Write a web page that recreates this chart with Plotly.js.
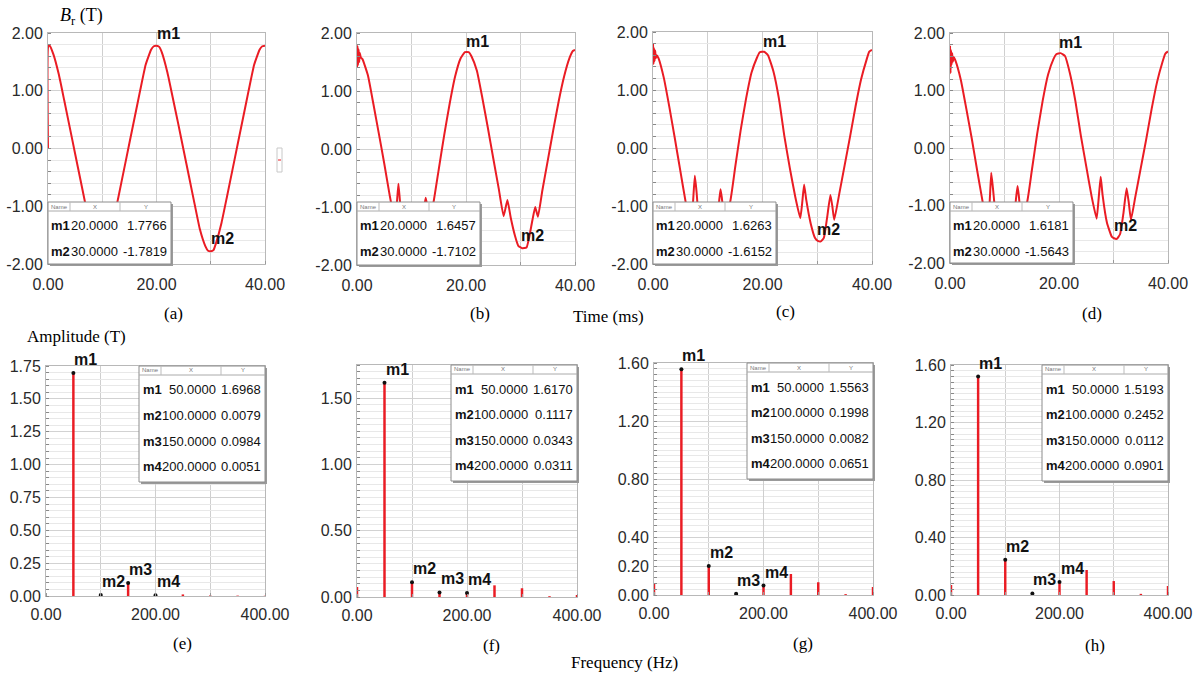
<!DOCTYPE html>
<html><head><meta charset="utf-8">
<script src="https://cdn.plot.ly/plotly-3.0.1.min.js"></script>
<style>html,body{margin:0;padding:0;background:#fff}#chart{width:1200px;height:679px}</style>
</head><body><div id="chart"></div>
<script>
// ---------- DATA ----------
// Time-domain radial flux density, Br (T) vs time (ms)
const timeA = [0,0.05,0.3,1,2,3,4,5,6,7,8,9,9.5,10,10.5,11,12,13,14,15,16,17,18,19,19.5,20,20.5,21,22,23,24,25,26,27,28,29,29.5,30,30.5,31,32,33,34,35,36,37,38,39,39.5,40];
const brA   = [0,1.77,1.78,1.63,1.28,0.83,0.37,-0.09,-0.55,-1.01,-1.45,-1.71,-1.77,-1.78,-1.75,-1.63,-1.28,-0.83,-0.37,0.09,0.55,1.01,1.45,1.71,1.77,1.78,1.76,1.66,1.32,0.88,0.43,-0.03,-0.49,-0.95,-1.4,-1.69,-1.77,-1.78,-1.76,-1.63,-1.28,-0.83,-0.37,0.09,0.55,1.01,1.45,1.71,1.77,1.78];

const timeB = [0,0.1,0.2,0.3,0.4,0.5,0.7,1,2,3,4,5,6,6.6,7.0,7.3,7.6,7.9,8.3,9,10,11,11.8,12.3,12.6,12.9,13.3,14,15,16,17,18,19,19.8,20.5,21,22,23,24,25,26,26.9,27.6,28.2,29,29.6,30.3,31.1,31.6,32.2,32.7,33.2,34,35,36,37,38,39,39.6,40];
const brB   = [1.4,1.78,1.45,1.72,1.5,1.66,1.58,1.55,1.27,0.78,0.27,-0.25,-0.8,-1.08,-1.18,-0.95,-0.6,-0.92,-1.25,-1.55,-1.68,-1.58,-1.32,-1.02,-0.84,-0.98,-1.2,-0.94,-0.35,0.24,0.78,1.25,1.56,1.67,1.67,1.6,1.35,0.88,0.37,-0.16,-0.68,-1.16,-0.88,-1.18,-1.5,-1.67,-1.71,-1.7,-1.52,-1.22,-1.0,-1.17,-0.72,-0.2,0.32,0.82,1.25,1.57,1.69,1.71];

const timeC = [0,0.1,0.2,0.3,0.4,0.5,0.7,1,2,3,4,5,6,6.6,7.0,7.3,7.64,7.95,8.25,9,10,11,11.7,12.1,12.34,12.6,13.0,14.05,15,16,17,18,19,19.5,20.3,21,22,23,24,25,26,26.9,27.25,27.6,28.0,28.8,29.6,30.1,30.65,31.2,31.8,32.4,32.75,33.1,34,35,36,37,38,39,39.5,40];
const brC   = [1.8,1.45,1.72,1.5,1.68,1.55,1.6,1.55,1.2,0.7,0.16,-0.4,-0.95,-1.2,-1.3,-0.95,-0.48,-0.75,-1.1,-1.45,-1.58,-1.5,-1.2,-0.9,-0.71,-0.88,-1.15,-0.95,-0.34,0.3,0.85,1.3,1.56,1.65,1.66,1.6,1.32,0.85,0.2,-0.35,-0.85,-1.21,-0.95,-0.63,-0.9,-1.3,-1.55,-1.6,-1.61,-1.55,-1.2,-0.81,-1.0,-1.24,-0.8,-0.3,0.2,0.72,1.18,1.52,1.66,1.69];

const timeD = [0,0.1,0.2,0.3,0.4,0.5,0.7,1,2,3,4,5,6,6.6,7.0,7.3,7.57,7.9,8.3,9,10,11,11.8,12.15,12.4,12.65,13.0,14.1,15,16,17,18,19,19.5,20.3,21.1,22,23,24,25,26,26.9,27.3,27.65,28.0,28.8,29.67,30.1,30.6,31.2,31.8,32.4,32.8,33.2,34,35,36,37,38,39,39.5,40];
const brD   = [1.78,1.3,1.7,1.45,1.65,1.5,1.58,1.52,1.18,0.68,0.16,-0.4,-0.94,-1.22,-1.3,-0.9,-0.43,-0.72,-1.1,-1.42,-1.55,-1.48,-1.15,-0.85,-0.66,-0.85,-1.15,-0.96,-0.4,0.25,0.82,1.28,1.55,1.63,1.65,1.6,1.3,0.82,0.22,-0.32,-0.85,-1.23,-0.85,-0.5,-0.82,-1.3,-1.54,-1.57,-1.58,-1.5,-1.15,-0.7,-0.95,-1.25,-0.85,-0.35,0.15,0.68,1.15,1.5,1.64,1.68];

// Markers on the time plots
const timeMarkerNames = ['m1','m2'];
const timeMarkerX = [20, 30];
const timeMarkerA = [1.7766, -1.7819];
const timeMarkerB = [1.6457, -1.7102];
const timeMarkerC = [1.6263, -1.6152];
const timeMarkerD = [1.6181, -1.5643];

// Spectra, amplitude (T) vs frequency (Hz)
const freqs = [0,50,100,150,200,250,300,350,400];
const ampE = [0,1.6968,0.0079,0.0984,0.0051,0.012,0.004,0.003,0.002];
const ampF = [0.075,1.6170,0.1117,0.0343,0.0311,0.088,0.066,0.006,0.015];
const ampG = [0.08,1.5563,0.1998,0.0082,0.0651,0.145,0.088,0.006,0.055];
const ampH = [0.07,1.5193,0.2452,0.0112,0.0901,0.174,0.097,0.008,0.063];

const freqMarkerNames = ['m1','m2','m3','m4'];
const freqMarkerX = [50,100,150,200];
const freqMarkerE = [1.6968,0.0079,0.0984,0.0051];
const freqMarkerF = [1.6170,0.1117,0.0343,0.0311];
const freqMarkerG = [1.5563,0.1998,0.0082,0.0651];
const freqMarkerH = [1.5193,0.2452,0.0112,0.0901];

const panelLetters = ['(a)','(b)','(c)','(d)','(e)','(f)','(g)','(h)'];

// ---------- LAYOUT ----------
const W = 1200, H = 679;
const px = v => v / W, py = v => 1 - v / H;
const SANS = "'Liberation Sans', Arial, sans-serif";
const SERIF = "'Liberation Serif', 'Times New Roman', serif";
const RED = '#ea1c24';

const topBoxes = [
  {x0:48,x1:265,y0:33,y1:264},{x0:357,x1:575,y0:33,y1:265},
  {x0:653,x1:872,y0:32,y1:264},{x0:950,x1:1168,y0:33,y1:263}];
const botBoxes = [
  {x0:46,x1:265,y0:366,y1:596},{x0:357,x1:577,y0:365,y1:597},
  {x0:654,x1:873,y0:363,y1:595},{x0:951,x1:1168,y0:365,y1:595}];
const letterPos = [[173,313],[480,313],[785,312],[1092,313],[182,643],[492,645],[803,643],[1095,645]];

const timeSeries = [[timeA,brA],[timeB,brB],[timeC,brC],[timeD,brD]];
const timeMarkers = [timeMarkerA,timeMarkerB,timeMarkerC,timeMarkerD];
const ampSeries = [ampE,ampF,ampG,ampH];
const freqMarkers = [freqMarkerE,freqMarkerF,freqMarkerG,freqMarkerH];
const yRanges = [[0,1.75],[0,1.75],[0,1.6],[0,1.6]];
const yTicks = [[0,0.25,0.5,0.75,1,1.25,1.5,1.75],[0,0.5,1,1.5],[0,0.2,0.4,0.8,1.2,1.6],[0,0.4,0.8,1.2,1.6]];

const tickFont = {family: SANS, size: 16, color: '#2a2a2a'};
const labelFont = {family: SANS, size: 16, color: '#111', weight: 'bold'};
const tableNameFont = {family: SANS, size: 13, color: '#111', weight: 'bold'};
const tableFont = {family: SANS, size: 13, color: '#111'};

const data = [];
const layout = {
  width: W, height: H, margin: {l:0,r:0,t:0,b:0},
  paper_bgcolor: '#fff', plot_bgcolor: '#fff', showlegend: false,
  shapes: [], annotations: []
};

function note(x, y, text, font, xa, ya) {
  layout.annotations.push({xref:'paper', yref:'paper', x:px(x), y:py(y), xanchor: xa || 'center', yanchor: ya || 'middle',
    text: text, showarrow:false, font: font});
}

function axisPair(n, box, xr, xt, xgrid, yr, yt, yminor, xstand) {
  const xa = {
    domain: [px(box.x0), px(box.x1)], range: xr, anchor: 'y'+n,
    tickvals: xt, ticktext: xt.map(v => v.toFixed(2)), tickfont: tickFont, ticks: '',
    showline: true, linecolor: '#b8b8b8', mirror: true, linewidth: 1,
    showgrid: true, gridcolor: '#cfcfcf', gridwidth: 1, zeroline: false,
    ticklabelstandoff: xstand,
    minor: {dtick: xgrid, tick0: 0, showgrid: true, gridcolor: '#cfcfcf', ticks: 'inside', ticklen: 3, tickcolor: '#999'}
  };
  const ya = {
    domain: [py(box.y1), py(box.y0)], range: yr, anchor: 'x'+n,
    tickvals: yt, ticktext: yt.map(v => v.toFixed(2)), tickfont: tickFont, ticks: '',
    showline: true, linecolor: '#b8b8b8', mirror: true, linewidth: 1,
    showgrid: true, gridcolor: '#d2d2d2', gridwidth: 1, zeroline: false,
    ticklabelstandoff: 1,
    minor: {dtick: yminor, showgrid: true, gridcolor: '#e8e8e8', ticks: 'inside', ticklen: 3, tickcolor: '#888'}
  };
  layout['xaxis'+(n===1?'':n)] = xa;
  layout['yaxis'+(n===1?'':n)] = ya;
}

function tableFrame(L, T, R, B, seps) {
  layout.shapes.push({type:'rect', xref:'paper', yref:'paper', x0:px(L+2), x1:px(R+2), y0:py(B+2), y1:py(T+2), fillcolor:'#9a9a9a', line:{width:0}, layer:'above'});
  layout.shapes.push({type:'rect', xref:'paper', yref:'paper', x0:px(L), x1:px(R), y0:py(B), y1:py(T), fillcolor:'#fff', line:{color:'#8c8c8c', width:1}, layer:'above'});
  layout.shapes.push({type:'line', xref:'paper', yref:'paper', x0:px(L), x1:px(R), y0:py(T+9), y1:py(T+9), line:{color:'#aaa', width:1}, layer:'above'});
  seps.forEach(o => layout.shapes.push({type:'line', xref:'paper', yref:'paper', x0:px(L+o), x1:px(L+o), y0:py(T), y1:py(T+9), line:{color:'#bbb', width:1}, layer:'above'}));
  const hf = {family:SANS, size:6, color:'#777'};
  note(L + seps[0]/2, T+4.5, 'Name', hf);
  note(L + (seps[0]+seps[1])/2, T+4.5, 'X', hf);
  note(L + (seps[1]+(R-L))/2, T+4.5, 'Y', hf);
}

function addTableTop(box, markers) {
  const L = box.x0, B = box.y1, T = 202, R = L + 123;
  tableFrame(L, T, R, B, [22, 72]);
  timeMarkerNames.forEach((nm, i) => {
    const yc = T + 24 + 25*i;
    note(L+1, yc, nm, tableNameFont, 'left');
    note(L+21, yc, timeMarkerX[i].toFixed(4), tableFont, 'left');
    note(L+121, yc, markers[i].toFixed(4), tableFont, 'right');
  });
}

function addTableBot(box, markers) {
  const R = box.x1, T = box.y0, L = R - 126, B = T + 116;
  tableFrame(L, T, R, B, [22, 82]);
  freqMarkerNames.forEach((nm, i) => {
    const yc = T + 24 + 25.5*i;
    note(L+2, yc, nm, tableNameFont, 'left');
    note(L+79, yc, freqMarkerX[i].toFixed(4), tableFont, 'right');
    note(L+124, yc, markers[i].toFixed(4), tableFont, 'right');
  });
}

// Top row: time waveforms
for (let k = 0; k < 4; k++) {
  const n = k + 1;
  axisPair(n, topBoxes[k], [0,40], [0,20,40], 10, [-2,2], [-2,-1,0,1,2], 0.2, 6);
  const xr = 'x'+n, yr = 'y'+n;
  data.push({type:'scatter', mode:'lines', x: timeSeries[k][0], y: timeSeries[k][1], xaxis: xr, yaxis: yr,
    line:{color: RED, width: 2, shape:'spline', smoothing:0.4}, hoverinfo:'skip'});
  timeMarkerNames.forEach((nm, i) => layout.annotations.push({xref:xr, yref:yr, x: timeMarkerX[i], y: timeMarkers[k][i],
    xanchor:'left', yanchor:'bottom', yshift: 2, xshift:-2, text:nm, showarrow:false, font:labelFont}));
  addTableTop(topBoxes[k], timeMarkers[k]);
}

// Bottom row: spectra
for (let k = 0; k < 4; k++) {
  const n = k + 5;
  axisPair(n, botBoxes[k], [0,400], [0,200,400], 100, yRanges[k], yTicks[k], yRanges[k][1] === 1.75 ? 0.05 : 0.04, 4);
  const xr = 'x'+n, yr = 'y'+n;
  data.push({type:'bar', x: freqs, y: ampSeries[k], xaxis: xr, yaxis: yr, width: 4.5,
    marker:{color: RED, line:{width:0}}, hoverinfo:'skip'});
  data.push({type:'scatter', mode:'markers', x: freqMarkerX, y: freqMarkers[k], xaxis: xr, yaxis: yr,
    marker:{color:'#111', size:4}, hoverinfo:'skip'});
  freqMarkerNames.forEach((nm, i) => layout.annotations.push({xref:xr, yref:yr, x: freqMarkerX[i], y: freqMarkers[k][i],
    xanchor:'left', yanchor:'bottom', yshift: 3, xshift:-1, text:nm, showarrow:false, font:labelFont}));
  addTableBot(botBoxes[k], freqMarkers[k]);
}

// Panel letters and axis titles
panelLetters.forEach((t, i) => note(letterPos[i][0], letterPos[i][1], t, {family:SERIF, size:17, color:'#000'}));
note(58, 16, '<i>B</i><sub>r</sub> (T)', {family:SERIF, size:18, color:'#000'}, 'left');
note(609, 316, 'Time (ms)', {family:SERIF, size:17, color:'#000'});
note(25, 336, 'Amplitude (T)', {family:SERIF, size:17, color:'#000'}, 'left');
note(624, 662, 'Frequency (Hz)', {family:SERIF, size:17, color:'#000'});

// small legend stub at right of (a)
layout.shapes.push({type:'rect', xref:'paper', yref:'paper', x0:px(277), x1:px(282), y0:py(172), y1:py(148), line:{color:'#c8c8c8', width:1}, fillcolor:'#fff'});
layout.shapes.push({type:'line', xref:'paper', yref:'paper', x0:px(278), x1:px(281), y0:py(160), y1:py(160), line:{color:RED, width:1}});

Plotly.newPlot('chart', data, layout, {staticPlot:true, displayModeBar:false});
</script>
</body></html>
